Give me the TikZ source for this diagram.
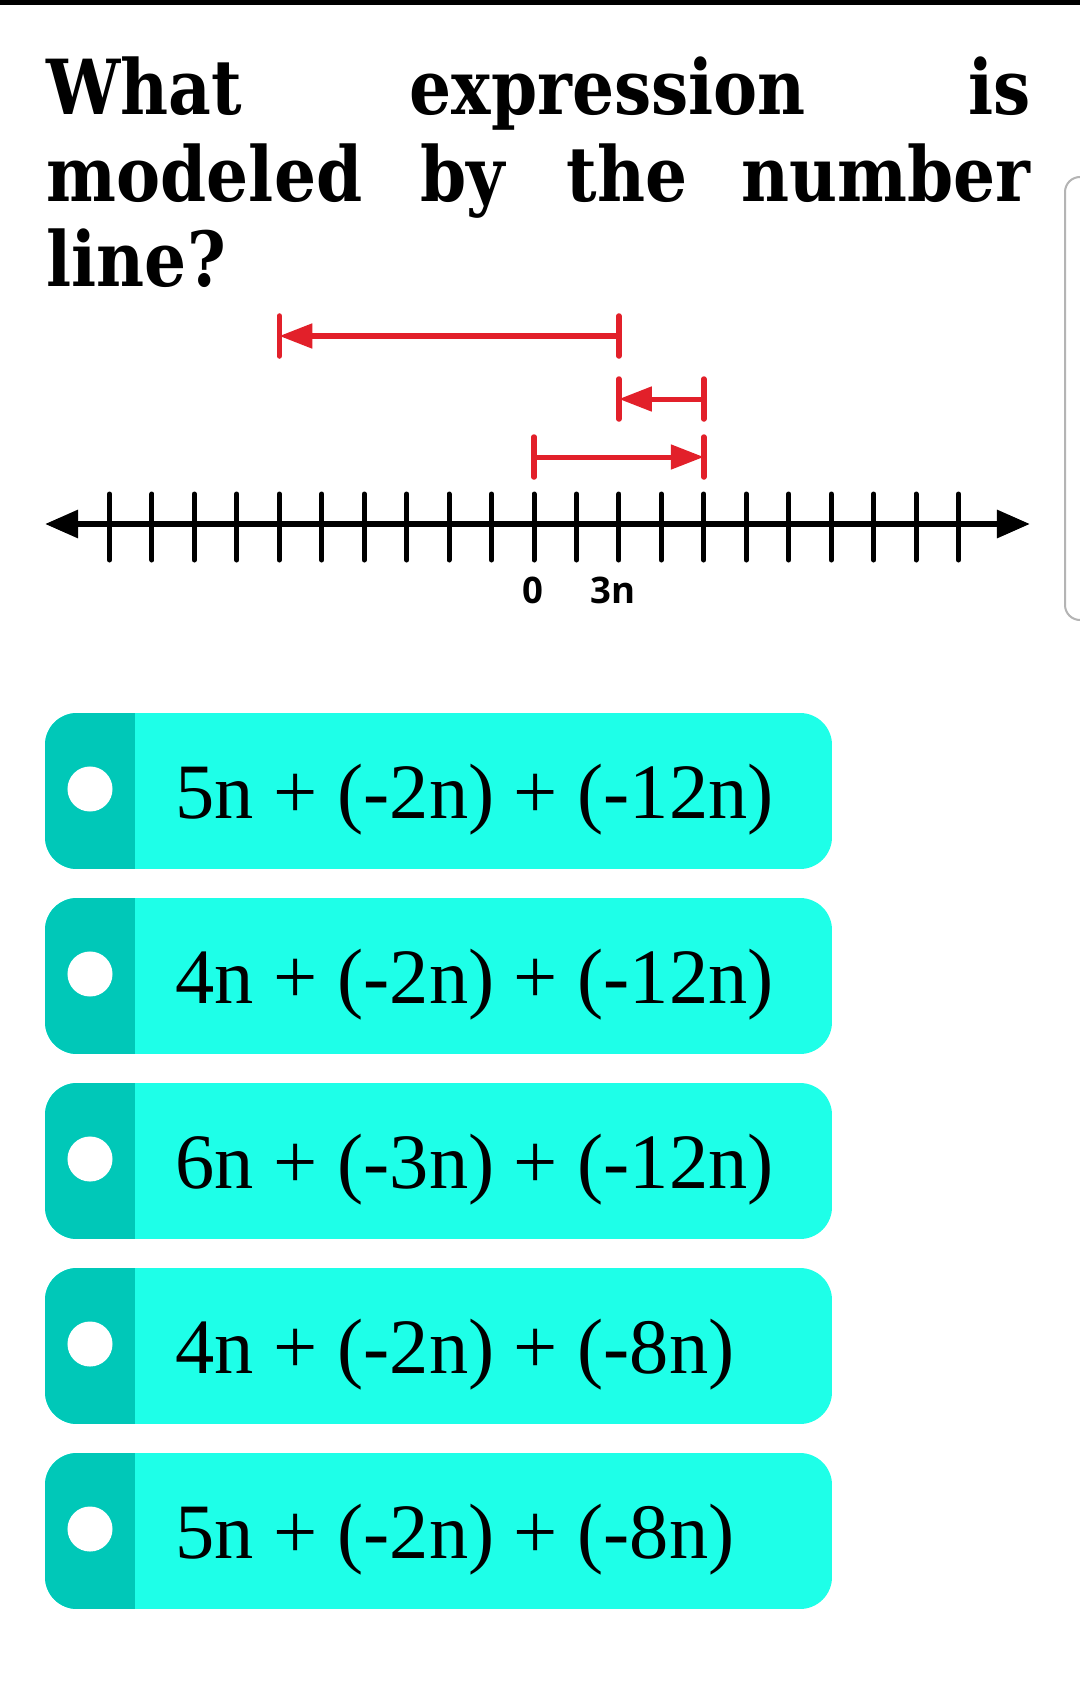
\documentclass[tikz,border=0pt]{standalone}
\usepackage{fontspec}
\usepackage{graphicx}
\setmainfont{Liberation Serif}
\newfontfamily\headfont{DejaVu Serif}
\newfontfamily\labelfont{Open Sans}
\usetikzlibrary{arrows.meta}

\definecolor{boxcyan}{RGB}{30,255,232}
\definecolor{boxteal}{RGB}{0,200,184}
\definecolor{jumpred}{RGB}{226,32,42}
\definecolor{edgegray}{RGB}{180,180,180}

\def\tk#1{534+42.45*(#1)}
\newcommand\squeeze[1]{\scalebox{0.87}[1]{#1}}

\tikzset{
  word/.style={inner sep=0pt, anchor=base west,
    font=\headfont\bfseries\fontsize{21.6}{24}\selectfont},
  axis/.style={line width=0.06cm,
    {Triangle[length=0.33cm,width=0.27cm]}-{Triangle[length=0.33cm,width=0.27cm]}},
  tick/.style={line width=0.05cm, line cap=round},
  jump/.style={jumpred, line width=0.05cm, -{Triangle[length=0.33cm,width=0.24cm]}},
  jumpbar/.style={jumpred, line width=0.055cm, line cap=round},
  numlabel/.style={inner sep=0pt, anchor=base,
    font=\labelfont\bfseries\fontsize{10.4}{12}\selectfont},
  dot/.style={circle, fill=white, inner sep=0pt, minimum size=0.45cm},
  answer/.style={inner sep=0pt, anchor=base west,
    font=\fontsize{22.3}{26}\selectfont},
}

\begin{document}
\begin{tikzpicture}[x=0.01cm, y=-0.01cm]
  \useasboundingbox[fill=white] (0,0) rectangle (1080,1706);
  \fill (0,0) rectangle (1080,5);
  \draw[edgegray, line width=0.02cm, rounded corners=0.15cm]
    (1082,177) -- (1065,177) -- (1065,620) -- (1082,620);

  % question
  \node[word] (what) at (46,115) {\squeeze{What}};
  \node[word] (expr) at (409,115) {\squeeze{expression}};
  \node[word, anchor=base east] (is) at (1031,115) {\squeeze{is}};
  \node[word] (modeled) at (46,202) {\squeeze{modeled}};
  \node[word] (by) at (420,202) {\squeeze{by}};
  \node[word] (the) at (566,202) {\squeeze{the}};
  \node[word, anchor=base east] (number) at (1031,202) {\squeeze{number}};
  \node[word] (line) at (46,286) {\squeeze{line?}};

  % number line
  \coordinate (left) at (45,524);
  \coordinate (right) at (1030,524);
  \draw[axis] (left) -- (right);
  \foreach \k in {-10,...,10}
    \draw[tick] ({\tk{\k}},494) -- ({\tk{\k}},560);
  \node[numlabel] (zero) at (533,603) {0};
  \node[numlabel] (three) at (613,603) {3n};

  % jumps
  \foreach \from/\to/\y in {2/-6/336, 4/2/399, 0/4/457} {
    \coordinate (s) at ({\tk{\from}},\y);
    \coordinate (e) at ({\tk{\to}},\y);
    \draw[jumpbar] ({\tk{\from}},{\y-20}) -- ({\tk{\from}},{\y+20});
    \draw[jumpbar] ({\tk{\to}},{\y-20}) -- ({\tk{\to}},{\y+20});
    \draw[jump] (s) -- (e);
  }

  % choices
  \foreach \txt [count=\i from 0] in {5n + (-2n) + (-12n), 4n + (-2n) + (-12n),
      6n + (-3n) + (-12n), 4n + (-2n) + (-8n), 5n + (-2n) + (-8n)} {
    \pgfmathsetmacro\ytop{713+185*\i}
    \begin{scope}
      \clip[rounded corners=0.32cm] (45,\ytop) rectangle (832,\ytop+156);
      \fill[boxcyan] (45,\ytop) rectangle (832,\ytop+156);
      \fill[boxteal] (45,\ytop) rectangle (135,\ytop+156);
    \end{scope}
    \node[dot] (dot\i) at (90,\ytop+76) {};
    \node[answer] (opt\i) at (175,\ytop+105) {\txt};
  }
\end{tikzpicture}
\end{document}
